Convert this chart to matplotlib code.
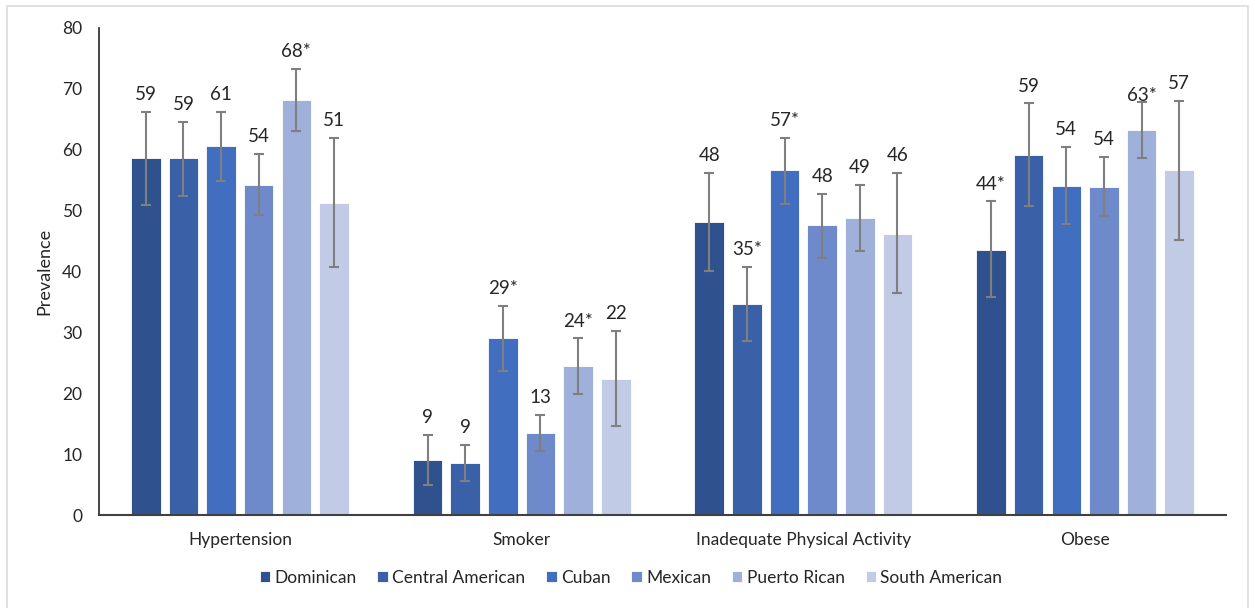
import matplotlib
matplotlib.use("Agg")
import matplotlib.pyplot as plt
from matplotlib.patches import Rectangle
import numpy as np

plt.rcParams["font.family"] = ["Lato", "DejaVu Sans"]

categories = ["Hypertension", "Smoker", "Inadequate Physical Activity", "Obese"]
groups = ["Dominican", "Central American", "Cuban", "Mexican", "Puerto Rican", "South American"]

# prevalence per group, one list per category order above
dominican = [58.7, 9.0, 48.1, 43.6]
central_american = [58.6, 8.6, 34.7, 59.1]
cuban = [60.6, 29.0, 56.6, 54.1]
mexican = [54.2, 13.4, 47.6, 53.9]
puerto_rican = [68.2, 24.4, 48.8, 63.2]
south_american = [51.3, 22.4, 46.2, 56.6]

# confidence interval bounds
dominican_lo = [50.9, 4.9, 40.1, 35.8]
dominican_hi = [66.2, 13.1, 56.2, 51.5]
central_american_lo = [52.4, 5.6, 28.6, 50.8]
central_american_hi = [64.6, 11.5, 40.8, 67.6]
cuban_lo = [54.9, 23.6, 51.1, 47.8]
cuban_hi = [66.2, 34.4, 61.9, 60.5]
mexican_lo = [49.2, 10.5, 42.2, 49.1]
mexican_hi = [59.3, 16.4, 52.7, 58.8]
puerto_rican_lo = [63.1, 19.8, 43.4, 58.6]
puerto_rican_hi = [73.3, 29.0, 54.2, 67.8]
south_american_lo = [40.7, 14.6, 36.4, 45.2]
south_american_hi = [62.0, 30.3, 56.2, 68.0]

# significance markers
dominican_sig = [False, False, False, True]
central_american_sig = [False, False, True, False]
cuban_sig = [False, True, True, False]
mexican_sig = [False, False, False, False]
puerto_rican_sig = [True, True, False, True]
south_american_sig = [False, False, False, False]

values = [dominican, central_american, cuban, mexican, puerto_rican, south_american]
lows = [dominican_lo, central_american_lo, cuban_lo, mexican_lo, puerto_rican_lo, south_american_lo]
highs = [dominican_hi, central_american_hi, cuban_hi, mexican_hi, puerto_rican_hi, south_american_hi]
sigs = [dominican_sig, central_american_sig, cuban_sig, mexican_sig, puerto_rican_sig, south_american_sig]

colors = ["#2F528F", "#3A60A8", "#416EBE", "#6E8ACA", "#9FB0DA", "#C1CBE6"]
text_color = "#262626"

fig = plt.figure(figsize=(12.55, 6.08), dpi=100)
ax = fig.add_axes([99 / 1255, 93 / 608, 1127 / 1255, 487 / 608])

x = np.arange(len(categories))
step = 0.1336
width = 0.105
err_color = "#7F7F7F"

for i, (g, vals, lo, hi, sg, c) in enumerate(zip(groups, values, lows, highs, sigs, colors)):
    xpos = x + (i - 2.5) * step
    vals = np.array(vals)
    yerr = np.vstack([vals - np.array(lo), np.array(hi) - vals])
    ax.bar(xpos, vals, width=width, color=c, edgecolor="white", linewidth=0.6, label=g, zorder=2)
    ax.errorbar(xpos, vals, yerr=yerr, fmt="none", ecolor=err_color, elinewidth=1.5,
                capsize=3.6, capthick=1.5, zorder=3)
    for j in range(len(categories)):
        txt = f"{vals[j]:.0f}" + ("*" if sg[j] else "")
        off = 12.5
        if g == "Puerto Rican" and categories[j] == "Obese":
            off = 5
        ax.annotate(txt, (xpos[j], hi[j]), xytext=(0, off), textcoords="offset points",
                    ha="center", va="center", fontsize=13.5, color=text_color, zorder=4)

ax.set_xlim(-0.5, 3.5)
ax.set_ylim(0, 80)
ax.set_yticks(np.arange(0, 81, 10))
ax.set_xticks(x)
ax.set_xticklabels(categories)
ax.tick_params(axis="both", length=0, labelsize=12.5, colors=text_color)
ax.tick_params(axis="y", pad=12)
ax.tick_params(axis="x", pad=12)
ax.set_ylabel("Prevalence", fontsize=13, color=text_color, labelpad=7)

for s in ["top", "right"]:
    ax.spines[s].set_visible(False)
ax.spines["left"].set_color(text_color)
ax.spines["bottom"].set_color("#404040")
ax.spines["left"].set_linewidth(1.2)
ax.spines["bottom"].set_linewidth(1.5)

leg = fig.legend(loc="center", bbox_to_anchor=(631 / 1255, 1 - 578 / 608), ncol=6,
                 frameon=False, fontsize=12.5, handlelength=0.6, handleheight=0.6,
                 handletextpad=0.25, columnspacing=1.2)
for t in leg.get_texts():
    t.set_color(text_color)

fig.patches.append(Rectangle((7 / 1255, -0.01), 1241 / 1255, (608 - 6) / 608 + 0.01,
                             transform=fig.transFigure, fill=False,
                             edgecolor="#DCDCDC", linewidth=1.2))

fig.savefig("out.png", dpi=100, facecolor="white")
